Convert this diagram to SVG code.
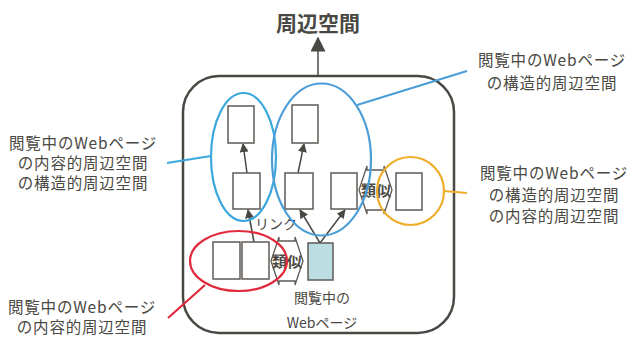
<svg xmlns="http://www.w3.org/2000/svg" width="629" height="338" viewBox="0 0 629 338">
<defs>
<style>
.t{font-family:"Noto Sans CJK JP","Noto Sans",sans-serif;fill:#4a4843;text-anchor:middle}
.lbl{font-size:15.5px;letter-spacing:0.8px}
.box{fill:#fff;stroke:#5e5a55;stroke-width:1.5}
.ln{stroke:#4a4843;stroke-width:1.5;fill:none}
.sim{fill:#fff;stroke:#5e5a55;stroke-width:1.3}
</style>
<marker id="ah" viewBox="0 0 10 10" refX="9" refY="5" markerWidth="9" markerHeight="9" orient="auto" markerUnits="userSpaceOnUse"><path d="M0,0L10,5L0,10z" fill="#4a4843"/></marker>
<marker id="ahb" viewBox="0 0 10 10" refX="9" refY="5" markerWidth="15" markerHeight="15" orient="auto" markerUnits="userSpaceOnUse"><path d="M0,0L10,5L0,10z" fill="#4a4843"/></marker>
</defs>
<text class="t" x="318" y="31" style="font-size:21px;font-weight:bold">周辺空間</text>
<g id="space">
<rect x="183" y="76" width="271" height="257" rx="36" ry="36" fill="#fff" stroke="#4a4843" stroke-width="2.5"/>
</g>
<g id="connectors">
<line class="ln" x1="318" y1="76" x2="318" y2="38" stroke-width="3" marker-end="url(#ahb)"/>
<line class="ln" x1="247" y1="173" x2="243" y2="144" marker-end="url(#ah)"/>
<line class="ln" x1="298" y1="173" x2="304" y2="144" marker-end="url(#ah)"/>
<line class="ln" x1="254" y1="242" x2="248" y2="210" marker-end="url(#ah)"/>
<line class="ln" x1="320" y1="243" x2="300" y2="210" marker-end="url(#ah)"/>
<line class="ln" x1="320" y1="243" x2="345" y2="210" marker-end="url(#ah)"/>
</g>
<g id="n-top1"><rect class="box" x="228" y="106" width="26" height="37"/></g>
<g id="n-top2"><rect class="box" x="292" y="105" width="26" height="38"/></g>
<g id="n-mid1"><rect class="box" x="233" y="173" width="27" height="36"/></g>
<g id="n-mid2"><rect class="box" x="285" y="173" width="28" height="36"/></g>
<g id="n-mid3"><rect class="box" x="331" y="173" width="26" height="36"/></g>
<g id="n-mid4"><rect class="box" x="396" y="173" width="26" height="37"/></g>
<g id="n-bot1"><rect class="box" x="213" y="242" width="27" height="37"/></g>
<g id="n-bot2"><rect class="box" x="242" y="242" width="27" height="37"/></g>
<g id="n-current"><rect class="box" x="308" y="243" width="25" height="37" style="fill:#bcdee3"/></g>
<g id="sim1">
<path class="sim" d="M271,261L279,237L279,241L295,241L295,237L303,261L295,285L295,281L279,281L279,285Z"/>
<text class="t" x="287" y="267" style="font-size:15px;font-weight:bold">類似</text>
</g>
<g id="sim2">
<path class="sim" d="M359,190L367,166L367,170L384,170L384,166L392,190L384,214L384,210L367,210L367,214Z"/>
<text class="t" x="376" y="196" style="font-size:15px;font-weight:bold">類似</text>
</g>
<text class="t" x="276" y="229" style="font-size:14px">リンク</text>
<text class="t" x="322" y="303" style="font-size:14px">閲覧中の</text>
<text class="t" x="322" y="328" style="font-size:14px">Webページ</text>
<g id="ellipses" fill="none" stroke-width="2.2">
<ellipse cx="243.5" cy="157" rx="32.5" ry="64" stroke="#3aa8dc"/>
<ellipse cx="321.5" cy="159.5" rx="49.5" ry="76" stroke="#4a9dd6"/>
<ellipse cx="410.5" cy="191" rx="33.5" ry="34" stroke="#eeae2c"/>
<ellipse cx="238.5" cy="261" rx="48.5" ry="30" stroke="#e02a3c"/>
</g>
<g id="callouts" stroke-width="2.2">
<line x1="167" y1="163" x2="211" y2="156" stroke="#3aa8dc"/>
<line x1="357" y1="105" x2="467" y2="71" stroke="#4a9dd6"/>
<line x1="444" y1="191" x2="467" y2="193" stroke="#eeae2c"/>
<line x1="205" y1="285" x2="168" y2="318" stroke="#e02a3c"/>
</g>
<g id="label-left">
<text class="t lbl" x="83" y="149">閲覧中のWebページ</text>
<text class="t lbl" x="83" y="169">の内容的周辺空間</text>
<text class="t lbl" x="83" y="189">の構造的周辺空間</text>
</g>
<g id="label-topright">
<text class="t lbl" x="552" y="66">閲覧中のWebページ</text>
<text class="t lbl" x="552" y="89">の構造的周辺空間</text>
</g>
<g id="label-right">
<text class="t lbl" x="554" y="179">閲覧中のWebページ</text>
<text class="t lbl" x="554" y="201">の構造的周辺空間</text>
<text class="t lbl" x="554" y="222">の内容的周辺空間</text>
</g>
<g id="label-bottomleft">
<text class="t lbl" x="82" y="313">閲覧中のWebページ</text>
<text class="t lbl" x="82" y="333">の内容的周辺空間</text>
</g>
</svg>
